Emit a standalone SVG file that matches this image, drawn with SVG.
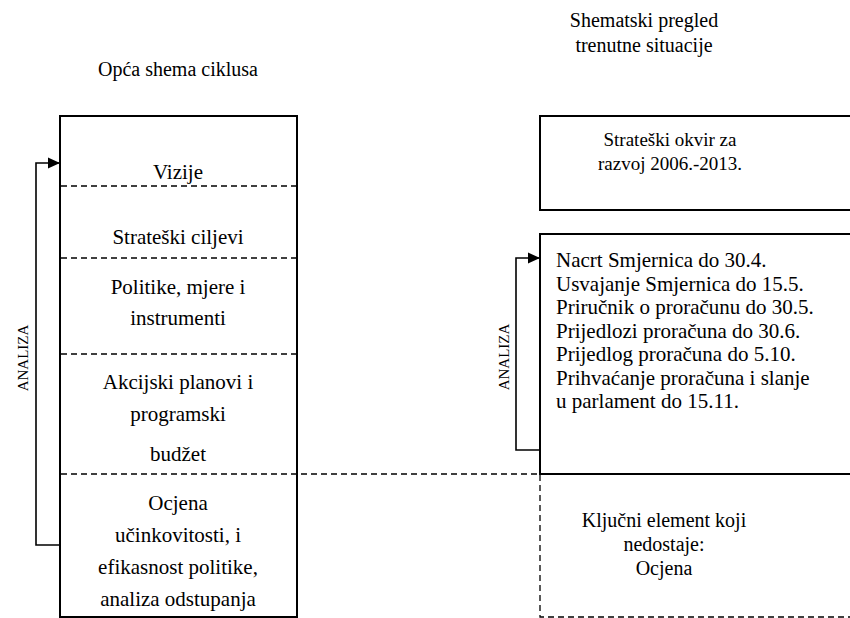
<svg xmlns="http://www.w3.org/2000/svg" width="850" height="618" viewBox="0 0 850 618">
<defs>
<style>
.t{font-family:'Liberation Serif','DejaVu Serif',serif;font-size:20px;fill:#000}
.c{text-anchor:middle}
.l{font-size:21px}
.r{font-size:21px}
.o{font-size:19px}
.v{font-size:15px;text-anchor:middle}
.box{fill:none;stroke:#000;stroke-width:2}
.dash{fill:none;stroke:#000;stroke-width:1.3;stroke-dasharray:6,4}
.ln{fill:none;stroke:#000;stroke-width:1.6}
</style>
<marker id="ah" markerWidth="12" markerHeight="12" refX="11" refY="6" orient="auto" markerUnits="userSpaceOnUse">
<path d="M0,0.5 L12,6 L0,11.5 Z" fill="#000"/>
</marker>
</defs>
<rect width="850" height="618" fill="#fff"/>
<g class="t" font-family="Liberation Serif, serif">
<g id="titles">
<text class="c" x="178" y="76">Opća shema ciklusa</text>
<text class="c" x="644" y="27">Shematski pregled</text>
<text class="c" x="644" y="52">trenutne situacije</text>
</g>
<g id="cycle">
<rect class="box" x="60" y="116" width="237" height="501"/>
<g class="l">
<text class="c" x="178" y="179">Vizije</text>
<text class="c" x="178" y="244">Strateški ciljevi</text>
<text class="c" x="178" y="294">Politike, mjere i</text>
<text class="c" x="178" y="325">instrumenti</text>
<text class="c" x="178" y="389">Akcijski planovi i</text>
<text class="c" x="178" y="421">programski</text>
<text class="c" x="178" y="461">budžet</text>
<text class="c" x="178" y="510">Ocjena</text>
<text class="c" x="178" y="542">učinkovitosti, i</text>
<text class="c" x="178" y="574">efikasnost politike,</text>
<text class="c" x="178" y="606">analiza odstupanja</text>
</g>
<line class="dash" x1="61" y1="186" x2="296" y2="186"/>
<line class="dash" x1="61" y1="258" x2="296" y2="258"/>
<line class="dash" x1="61" y1="354" x2="296" y2="354"/>
</g>
<g id="okvir">
<rect class="box" x="540" y="116" width="312" height="94"/>
<g class="o">
<text class="c" x="670" y="146">Strateški okvir za</text>
<text class="c" x="670" y="170">razvoj 2006.-2013.</text>
</g>
</g>
<g id="proces">
<path class="box" d="M852,234 H540 V474 H852"/>
<g class="r">
<text x="556" y="267">Nacrt Smjernica do 30.4.</text>
<text x="556" y="290.5">Usvajanje Smjernica do 15.5.</text>
<text x="556" y="314">Priručnik o proračunu do 30.5.</text>
<text x="556" y="337.5">Prijedlozi proračuna do 30.6.</text>
<text x="556" y="361">Prijedlog proračuna do 5.10.</text>
<text x="556" y="384.5">Prihvaćanje proračuna i slanje</text>
<text x="556" y="408">u parlament do 15.11.</text>
</g>
</g>
<g id="ocjena">
<path class="dash" d="M540,475 V617 H852"/>
<text class="c" x="664" y="527">Ključni element koji</text>
<text class="c" x="664" y="551">nedostaje:</text>
<text class="c" x="664" y="575">Ocjena</text>
</g>
<g id="connectors">
<line class="dash" x1="61" y1="474" x2="540" y2="474"/>
<path class="ln" d="M60,545 H36 V163 H59" marker-end="url(#ah)"/>
<path class="ln" d="M540,450 H516 V258 H539" marker-end="url(#ah)"/>
<text class="v" transform="translate(28,358) rotate(-90)">ANALIZA</text>
<text class="v" transform="translate(509,357) rotate(-90)">ANALIZA</text>
</g>
</g>
</svg>
